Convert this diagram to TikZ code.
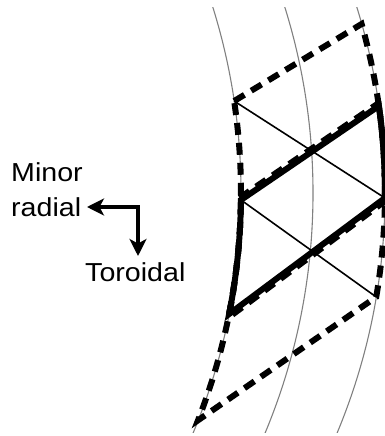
\documentclass[tikz,border=0pt]{standalone}
\usepackage{fontspec}
\newfontfamily\labfont[FakeStretch=1.1]{Liberation Sans}
\usetikzlibrary{arrows.meta,calc}
\begin{document}
\begin{tikzpicture}[x=1pt,y=1pt,
  guide/.style={draw=black!50, line width=1.1pt},
  cellbold/.style={line width=6pt, line join=miter},
  celldash/.style={line width=6pt, dash pattern=on 12pt off 8pt},
  diag/.style={line width=1.6pt},
  dirarrow/.style={line width=3.6pt, line join=miter, {Stealth[length=17pt,width=17pt,inset=4.5pt]}-{Stealth[length=17pt,width=17pt,inset=4.5pt]}},
  lab/.style={font=\labfont\fontsize{26}{30}\selectfont, inner sep=0pt, anchor=base west}]
\useasboundingbox (0,0) rectangle (385,436);
\coordinate (c1) at (-382,243);
\coordinate (c2) at (-310,243);
\coordinate (c3) at (-238,243);
\begin{scope}
\clip (0,3) rectangle (385,428);
\draw[guide] (c1) circle[radius=623];
\draw[guide] (c2) circle[radius=623];
\draw[guide] (c3) circle[radius=623];
\end{scope}
% vertices
\coordinate (A) at ($(c1)+(8.49:623)$);
\coordinate (E) at ($(c1)+(-0.64:623)$);
\coordinate (H) at ($(c1)+(-11.2:623)$);
\coordinate (D) at ($(c1)+(-21.4:623)$);
\coordinate (B) at ($(c3)+(15.74:623)$);
\coordinate (F) at ($(c3)+(8.03:623)$);
\coordinate (G) at ($(c3)+(-0.46:623)$);
\coordinate (C) at ($(c3)+(-9.61:623)$);
% diagonals
\draw[diag] (A) -- (G);
\draw[diag] (E) -- (C);
% dashed cell 1
\draw[celldash] (A) -- (B) arc[start angle=15.74, end angle=-0.46, radius=623];
\draw[celldash] ($(G)+(1.5,-2)$) -- ($(H)+(1.5,-2)$);
\draw[celldash] (H) arc[start angle=-11.2, end angle=8.49, radius=623];
% dashed cell 2
\draw[celldash] ($(E)+(-1.4,2.1)$) -- ($(F)+(-1.4,2.1)$);
\draw[celldash] (F) arc[start angle=8.03, end angle=-9.61, radius=623] -- (D) arc[start angle=-21.4, end angle=-0.64, radius=623];
% bold cell
\draw[cellbold] (E) -- (F) arc[start angle=8.03, end angle=-0.46, radius=623] -- (H) arc[start angle=-11.2, end angle=-0.64, radius=623] -- cycle;
% direction arrows
\coordinate (corner) at (138,229);
\coordinate (radtip) at (87,229);
\coordinate (tortip) at (138,180);
\draw[dirarrow] (radtip) -- (corner) -- (tortip);
\node[lab] (minor) at (11,254) {Minor};
\node[lab] (radial) at (11,219) {radial};
\node[lab] (toroidal) at (85,154) {Toroidal};
\end{tikzpicture}
\end{document}
